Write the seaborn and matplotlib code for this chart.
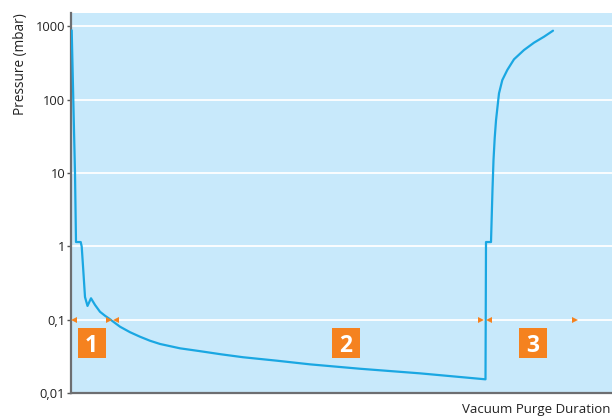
import pandas as pd
import seaborn as sns
import matplotlib.pyplot as plt
from matplotlib.ticker import NullLocator

# Pressure curve over a vacuum purge cycle (time in arbitrary units)
time_units = [0.7, 2.3, 4, 5, 6, 9.7, 10.7, 12.3, 14, 16.5, 20, 24, 29, 34, 39, 49, 59,
              69, 79, 89, 109, 129, 150, 172, 206, 239, 289, 349, 414.5,
              415, 420, 420.5, 421.5, 422.5, 423.7, 425, 426.5, 428, 431.3, 436.3,
              443, 453, 463, 473, 482]
pressure_mbar = [880, 100, 10, 1.15, 1.15, 1.15, 1.0, 0.47, 0.205, 0.155, 0.197, 0.16,
                 0.129, 0.114, 0.102, 0.0808, 0.068, 0.059, 0.052, 0.047, 0.041, 0.0375,
                 0.034, 0.031, 0.0278, 0.0248, 0.0216, 0.0187, 0.0155,
                 1.15, 1.15, 2, 6, 15, 30, 52, 80, 122, 185, 254,
                 355, 475, 598, 721, 871]

# Phase markers
phase_labels = ['1', '2', '3']
phase_label_t = [20.5, 275, 462]
phase_label_p = 0.049
arrow_left_t = [3, 45, 418]
arrow_right_t = [38, 410, 504]
arrow_p = 0.1

yticks = [0.01, 0.1, 1, 10, 100, 1000]
ytick_labels = ['0,01', '0,1', '1', '10', '100', '1000']

line_blue = '#1AA7E2'
bg_blue = '#C8E9FB'
orange = '#F5821F'
axis_grey = '#6D6E71'

sns.set_style('white', {'axes.facecolor': bg_blue})
plt.rcParams['font.family'] = ['Open Sans', 'DejaVu Sans']

fig = plt.figure(figsize=(6.12, 4.17), dpi=100)
ax = fig.add_axes([71 / 612, 1 - 393.3 / 417, 1 - 71 / 612, 380 / 417])

df = pd.DataFrame({'time': time_units, 'pressure': pressure_mbar})
sns.lineplot(data=df, x='time', y='pressure', sort=False, estimator=None,
             color=line_blue, lw=1.6, ax=ax, zorder=3)

ax.set_yscale('log')
ax.set_ylim(0.01, 10 ** 3.177)
ax.set_xlim(0, 541)
ax.set_yticks(yticks)
ax.set_yticklabels(ytick_labels)
ax.yaxis.set_minor_locator(NullLocator())
ax.set_xticks([])
ax.set_xlabel('')

ax.yaxis.grid(True, color='white', lw=1.3)
ax.xaxis.grid(False)
ax.set_axisbelow(True)

for side in ['top', 'right']:
    ax.spines[side].set_visible(False)
for side in ['left', 'bottom']:
    ax.spines[side].set_color(axis_grey)
    ax.spines[side].set_linewidth(1.6)

ax.tick_params(axis='y', left=True, length=3.2, width=1, color='#555555',
               labelsize=9.3, pad=1, labelcolor='#222222')

ax.set_ylabel('Pressure (mbar)', loc='top', fontsize=9.8, color='#222222')
ax.yaxis.set_label_coords(-0.08, 1.0)

# phase range arrowheads on the 0,1 line
ax.plot(arrow_left_t, [arrow_p] * len(arrow_left_t), ls='none', marker='<',
        ms=5, color=orange, mew=0, zorder=4)
ax.plot(arrow_right_t, [arrow_p] * len(arrow_right_t), ls='none', marker='>',
        ms=5, color=orange, mew=0, zorder=4)

# numbered phase boxes
box = [(-0.45, -0.5), (0.45, -0.5), (0.45, 0.5), (-0.45, 0.5)]
ax.plot(phase_label_t, [phase_label_p] * len(phase_label_t), ls='none', marker=box,
        ms=22.3, color=orange, mew=0, zorder=4)
for t, lab in zip(phase_label_t, phase_labels):
    ax.text(t, phase_label_p, lab, color='white', fontsize=16.5, fontweight='bold',
            ha='center', va='center_baseline', zorder=5)

# x label sits at the bottom right, kept just inside the figure edge
fig.text(0.997, 1 - 410 / 417, 'Vacuum Purge Duration', ha='right', va='center',
         fontsize=9.5, color='#222222')

fig.savefig('out.png', dpi=100)
